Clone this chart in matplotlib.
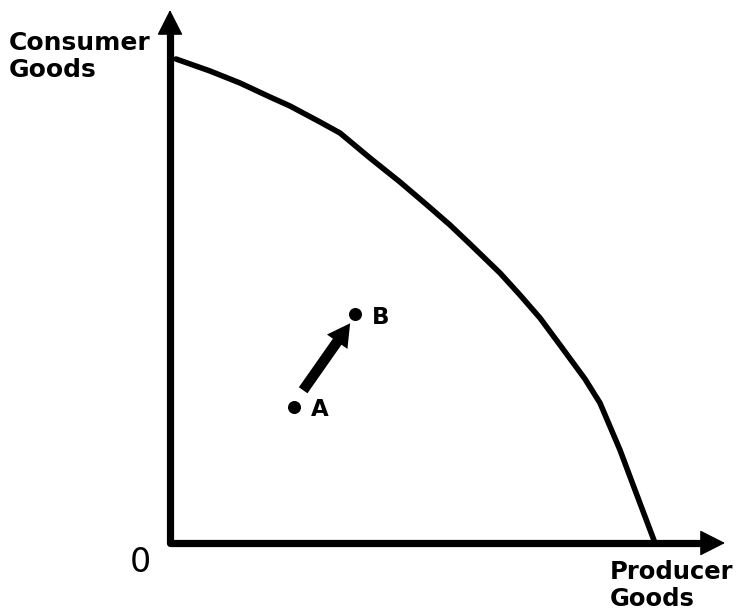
import matplotlib
matplotlib.use('Agg')
import matplotlib.pyplot as plt

# Fronteira de possibilidades de produção (unidades arbitrárias, origem no canto dos eixos)
ppf_x = [6, 40, 70, 100, 120, 150, 170, 200, 230, 257, 280, 300, 330, 350, 370, 390, 415, 430, 450, 465, 485]
ppf_y = [484, 472, 460, 446, 437, 421, 410, 385, 361, 338, 318, 299, 270, 248, 225, 198, 164, 140, 93, 53, 0]

# Pontos A e B
pt_names = ['A', 'B']
pt_x = [124, 185]
pt_y = [136, 229]

x_label = 'Producer\nGoods'
y_label = 'Consumer\nGoods'
origin_label = '0'

X_MAX = 555   # ponta da seta horizontal
Y_MAX = 533   # ponta da seta vertical

fig = plt.figure(figsize=(7.36, 6.15), dpi=100)
ax = fig.add_axes([0, 0, 1, 1])
ax.set_xlim(-170, 566)
ax.set_ylim(-72, 543)
ax.axis('off')

# Eixos em L
ax.plot([0, 0, X_MAX - 20], [Y_MAX - 20, 0, 0], color='black', lw=5.2,
        solid_joinstyle='round', solid_capstyle='butt')
arrow_kw = dict(arrowstyle='-|>,head_length=0.65,head_width=0.33',
                mutation_scale=25, color='black', lw=1, shrinkA=0, shrinkB=0)
ax.annotate('', xy=(0, Y_MAX), xytext=(0, Y_MAX - 40), arrowprops=arrow_kw)
ax.annotate('', xy=(X_MAX, 0), xytext=(X_MAX - 40, 0), arrowprops=arrow_kw)

# Curva
ax.plot(ppf_x, ppf_y, color='black', lw=4, solid_capstyle='round',
        solid_joinstyle='round')

# Pontos e seta A -> B
ax.scatter(pt_x, pt_y, s=70, color='black', zorder=5)
for name, x, y in zip(pt_names, pt_x, pt_y):
    ax.text(x + 17, y - 3, name, fontsize=16.5, fontweight='bold', va='center',
            ha='left')
dx = pt_x[1] - pt_x[0]
dy = pt_y[1] - pt_y[0]
ax.annotate('', xy=(pt_x[0] + dx * 0.92, pt_y[0] + dy * 0.9),
            xytext=(pt_x[0] + dx * 0.15, pt_y[0] + dy * 0.18),
            arrowprops=dict(arrowstyle='simple,head_length=0.9,head_width=1.0,tail_width=0.42',
                            mutation_scale=18, color='black', lw=0,
                            shrinkA=0, shrinkB=0))

# Rótulos
ax.text(-161, 512, y_label, fontsize=18, fontweight='bold', ha='left', va='top',
        linespacing=1.15)
ax.text(440, -17, x_label, fontsize=17.5, fontweight='bold', ha='left', va='top',
        linespacing=1.15)
ax.text(-30, -3, origin_label, fontsize=24, ha='center', va='top')

fig.savefig('out.png', dpi=100, facecolor='white')
